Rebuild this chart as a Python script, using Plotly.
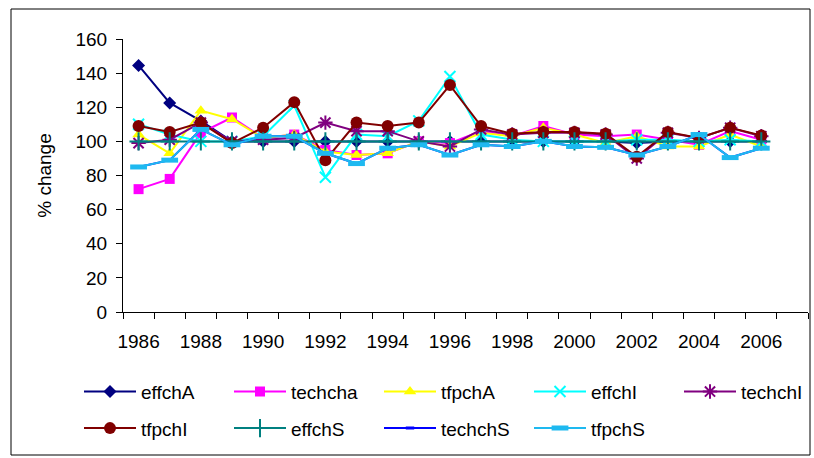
import plotly.graph_objects as go

years = list(range(1986, 2007))

effchA = [144.5, 122.5, 112, 100, 100, 100, 100, 100, 100, 100, 100,
          100, 100, 100, 100, 100, 99, 100, 100, 100, 100]
techcha = [72, 78, 105, 114, 102, 104, 95, 92, 93, 100, 99,
           106, 103, 109, 104, 103, 104, 101, 98, 106, 101]
tfpchA = [104, 93, 118, 113, 102, 104, 94, 92, 93, 100, 97,
          105, 103, 108, 104, 99, 103, 97, 97, 104, 97]
effchI = [110, 104, 100, 100, 103, 121, 79, 104, 103, 112, 138,
          104, 101, 100, 100, 100, 101, 101, 100, 101, 100]
techchI = [99, 101, 111, 100, 101, 102, 111, 106, 106, 100, 97,
           107, 104, 105, 105, 104, 90, 105, 102, 108, 103]
tfpchI = [109, 105.5, 111, 99, 108, 123, 89, 111, 109, 111, 133,
          109, 104.5, 105.5, 105.5, 104.5, 91, 105.5, 102, 108, 103.5]
effchS = [100] * 21
techchS = [85, 89, 107, 98, 103, 103, 93, 87, 96, 98, 92,
           98, 97, 100, 97, 96.5, 92, 97, 104, 90.5, 96]
tfpchS = [85, 89, 107, 98, 103, 103, 93, 87, 96, 98, 92,
          98, 97, 100, 97, 96.5, 92, 97, 104, 90.5, 96]

FONT = "Liberation Sans, Arial, sans-serif"

# name, values, colour, marker style, legend block
series = [
    ("effchA", effchA, "#000080", dict(symbol="diamond", size=10), "legend"),
    ("techcha", techcha, "#FF00FF", dict(symbol="square", size=10), "legend"),
    ("tfpchA", tfpchA, "#FFFF00", dict(symbol="triangle-up", size=11), "legend"),
    ("effchI", effchI, "#00FFFF", dict(symbol="x-thin", size=11,
                                       line=dict(width=2, color="#00FFFF")), "legend"),
    ("techchI", techchI, "#800080", dict(symbol="asterisk", size=12,
                                         line=dict(width=2, color="#800080")), "legend3"),
    ("tfpchI", tfpchI, "#800000", dict(symbol="circle", size=12), "legend2"),
    ("effchS", effchS, "#008080", dict(symbol="cross-thin", size=13,
                                       line=dict(width=2, color="#008080")), "legend2"),
    ("techchS", techchS, "#0000FF", dict(symbol="line-ew", size=6,
                                         line=dict(width=3, color="#0000FF")), "legend2"),
    ("tfpchS", tfpchS, "#1EB9F0", dict(symbol="line-ew", size=12,
                                       line=dict(width=5, color="#1EB9F0")), "legend2"),
]

fig = go.Figure()
for name, vals, color, marker, leg in series:
    fig.add_trace(go.Scatter(
        x=years, y=vals, name=name, mode="lines+markers",
        line=dict(color=color, width=2),
        marker=dict(color=color, **marker),
        legend=leg,
    ))

legend_common = dict(
    orientation="h", xanchor="left", yanchor="top",
    font=dict(family=FONT, size=19, color="black"),
    bgcolor="rgba(0,0,0,0)", itemwidth=52, traceorder="normal",
)

PX = 685.0   # plot width in px
PY = 273.0   # plot height in px
LX = (79 - 123) / PX

fig.update_layout(
    width=814, height=458,
    margin=dict(l=123, r=6, t=39, b=146),
    paper_bgcolor="white", plot_bgcolor="white",
    font=dict(family=FONT, size=19, color="black"),
    showlegend=True,
    legend=dict(x=LX, y=-0.2223, entrywidth=83, entrywidthmode="pixels", **legend_common),
    legend2=dict(x=LX, y=-0.3563, entrywidth=83, entrywidthmode="pixels", **legend_common),
    legend3=dict(x=LX + 600 / PX, y=-0.2223, **legend_common),
    xaxis=dict(
        range=[1985.5, 2007.5], showgrid=False, zeroline=False,
        tickmode="array", tickvals=list(range(1986, 2007, 2)),
        ticks="", showline=True, linecolor="black", linewidth=1,
        tickfont=dict(family=FONT, size=19), ticklabelstandoff=12,
        minor=dict(ticks="outside", tickmode="linear", tick0=1985.5, dtick=1,
                   ticklen=6, tickcolor="black", showgrid=False),
    ),
    yaxis=dict(
        range=[0, 160], dtick=20, showgrid=False, zeroline=False,
        ticks="outside", ticklen=6, tickcolor="black",
        showline=True, linecolor="black", linewidth=1,
        tickfont=dict(family=FONT, size=19), ticklabelstandoff=5,
        title=dict(text="% change", font=dict(family=FONT, size=19), standoff=18),
    ),
    shapes=[dict(type="rect", xref="paper", yref="paper",
                 x0=(11 - 123) / PX, x1=(810 - 123) / PX,
                 y0=(312 - 455) / PY, y1=(312 - 9) / PY,
                 line=dict(color="black", width=1), fillcolor="rgba(0,0,0,0)",
                 layer="below")],
)

fig.write_html("out.html")
